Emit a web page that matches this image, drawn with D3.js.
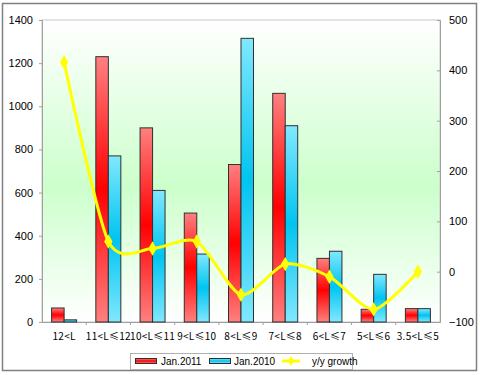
<!DOCTYPE html>
<html><head><meta charset="utf-8">
<script src="https://cdn.jsdelivr.net/npm/d3@7"></script>
<style>body{margin:0;background:#fff}svg{display:block}</style>
</head><body><svg id="c" width="480" height="375"></svg>
<script>
const categories = ["12<L","11<L≤12","10<L≤11","9<L≤10","8<L≤9","7<L≤8","6<L≤7","5<L≤6","3.5<L≤5"];
const jan2011 = [65,1230,900,505,730,1060,295,59,62];
const jan2010 = [10,770,610,315,1315,910,328,221,62];
const growth = [416,60,46,60,-46,15,-10,-75,0];
const leftTicks = [0,200,400,600,800,1000,1200,1400];
const rightTicks = [-100,0,100,200,300,400,500];
const seriesNames = ["Jan.2011","Jan.2010","y/y growth"];

const svg = d3.select("#c");
const L=42,R=440,T=20,B=322;
const defs = svg.append("defs");
const bg = defs.append("linearGradient").attr("id","bg").attr("x1",0).attr("y1",0).attr("x2",0).attr("y2",1);
bg.append("stop").attr("offset","0%").attr("stop-color","#ffffff");
bg.append("stop").attr("offset","55%").attr("stop-color","#ccffcc");
bg.append("stop").attr("offset","100%").attr("stop-color","#ffffff");
function barGrad(id,edge,mid){
  const g=defs.append("linearGradient").attr("id",id).attr("x1",0).attr("y1",0).attr("x2",0).attr("y2",1);
  g.append("stop").attr("offset","0%").attr("stop-color",edge);
  g.append("stop").attr("offset","50%").attr("stop-color",mid);
  g.append("stop").attr("offset","100%").attr("stop-color",edge);
}
barGrad("gr","#ff8080","#ff0000");
barGrad("gb","#80e8ff","#00c4f0");

svg.append("rect").attr("x",2.5).attr("y",3.5).attr("width",474).attr("height",367).attr("fill","#fff").attr("stroke","#808080").attr("stroke-width",1.5);
svg.append("rect").attr("x",L).attr("y",T).attr("width",R-L).attr("height",B-T).attr("fill","url(#bg)").attr("stroke","#c8c8c8");

const x = d3.scaleBand().domain(categories).range([L,R]);
const yL = d3.scaleLinear().domain([0,1400]).range([B,T]);
const yR = d3.scaleLinear().domain([-100,500]).range([B,T]);
const bw = 12.5;

const gL = svg.append("g").attr("transform",`translate(${L},0)`).call(d3.axisLeft(yL).tickValues(leftTicks).tickFormat(d3.format("d")).tickSize(3).tickPadding(6));
const gR = svg.append("g").attr("transform",`translate(${R},0)`).call(d3.axisRight(yR).tickValues(rightTicks).tickFormat(d3.format("d")).tickSize(-3).tickPadding(9));
const gX = svg.append("g").attr("transform",`translate(0,${B})`).call(d3.axisBottom(x).tickSize(0).tickPadding(11));
[gL,gR,gX].forEach(g=>{g.select(".domain").attr("stroke","#a0a0a0");g.selectAll(".tick line").attr("stroke","#a0a0a0");});
gL.selectAll("text").attr("font-family","Arial, Liberation Sans").attr("font-size",11).attr("fill","#000");
gR.selectAll("text").attr("font-family","Arial, Liberation Sans").attr("font-size",11).attr("fill","#000");
gX.selectAll("text").attr("font-family","'Noto Sans CJK SC', serif").attr("font-size",10).attr("letter-spacing",0.25).attr("fill","#000");
svg.append("g").selectAll("line").data(categories.slice(1)).join("line")
 .attr("x1",d=>x(d)).attr("x2",d=>x(d)).attr("y1",B).attr("y2",B+3).attr("stroke","#a0a0a0");

const bars = svg.append("g");
bars.selectAll(".r").data(categories).join("rect")
 .attr("x",d=>x(d)+x.bandwidth()/2-bw).attr("width",bw)
 .attr("y",(d,i)=>yL(jan2011[i])).attr("height",(d,i)=>B-yL(jan2011[i]))
 .attr("fill","url(#gr)").attr("stroke","#303030").attr("stroke-width",1);
bars.selectAll(".b").data(categories).join("rect")
 .attr("x",d=>x(d)+x.bandwidth()/2).attr("width",bw)
 .attr("y",(d,i)=>yL(jan2010[i])).attr("height",(d,i)=>B-yL(jan2010[i]))
 .attr("fill","url(#gb)").attr("stroke","#303030").attr("stroke-width",1);

const pts = categories.map((c,i)=>[x(c)+x.bandwidth()/2, yR(growth[i])]);
svg.append("path").attr("d",d3.line().curve(d3.curveCardinal.tension(0.25))(pts))
 .attr("fill","none").attr("stroke","#ffff00").attr("stroke-width",3);
svg.append("g").selectAll("path").data(pts).join("path")
 .attr("transform",d=>`translate(${d[0]},${d[1]})`)
 .attr("d",d3.symbol(d3.symbolDiamond,60)).attr("fill","#ffff00");

const lg = svg.append("g");
lg.append("rect").attr("x",130.5).attr("y",353.5).attr("width",222).attr("height",16).attr("fill","#fff").attr("stroke","#b0b0b0");
lg.append("rect").attr("x",135.5).attr("y",358.5).attr("width",21).attr("height",5).attr("fill","url(#gr)").attr("stroke","#303030");
lg.append("rect").attr("x",209.5).attr("y",358.5).attr("width",21).attr("height",5).attr("fill","url(#gb)").attr("stroke","#303030");
lg.append("line").attr("x1",282).attr("x2",300).attr("y1",361).attr("y2",361).attr("stroke","#ffff00").attr("stroke-width",3);
lg.append("path").attr("transform","translate(291,361)").attr("d",d3.symbol(d3.symbolDiamond,30)).attr("fill","#ffff00");
[[161,0],[234,1],[312,2]].forEach(([xx,i])=>{
  lg.append("text").attr("x",xx).attr("y",365).text(seriesNames[i]).attr("font-family","Arial, Liberation Sans").attr("font-size",10).attr("fill","#000");
});
</script></body></html>
